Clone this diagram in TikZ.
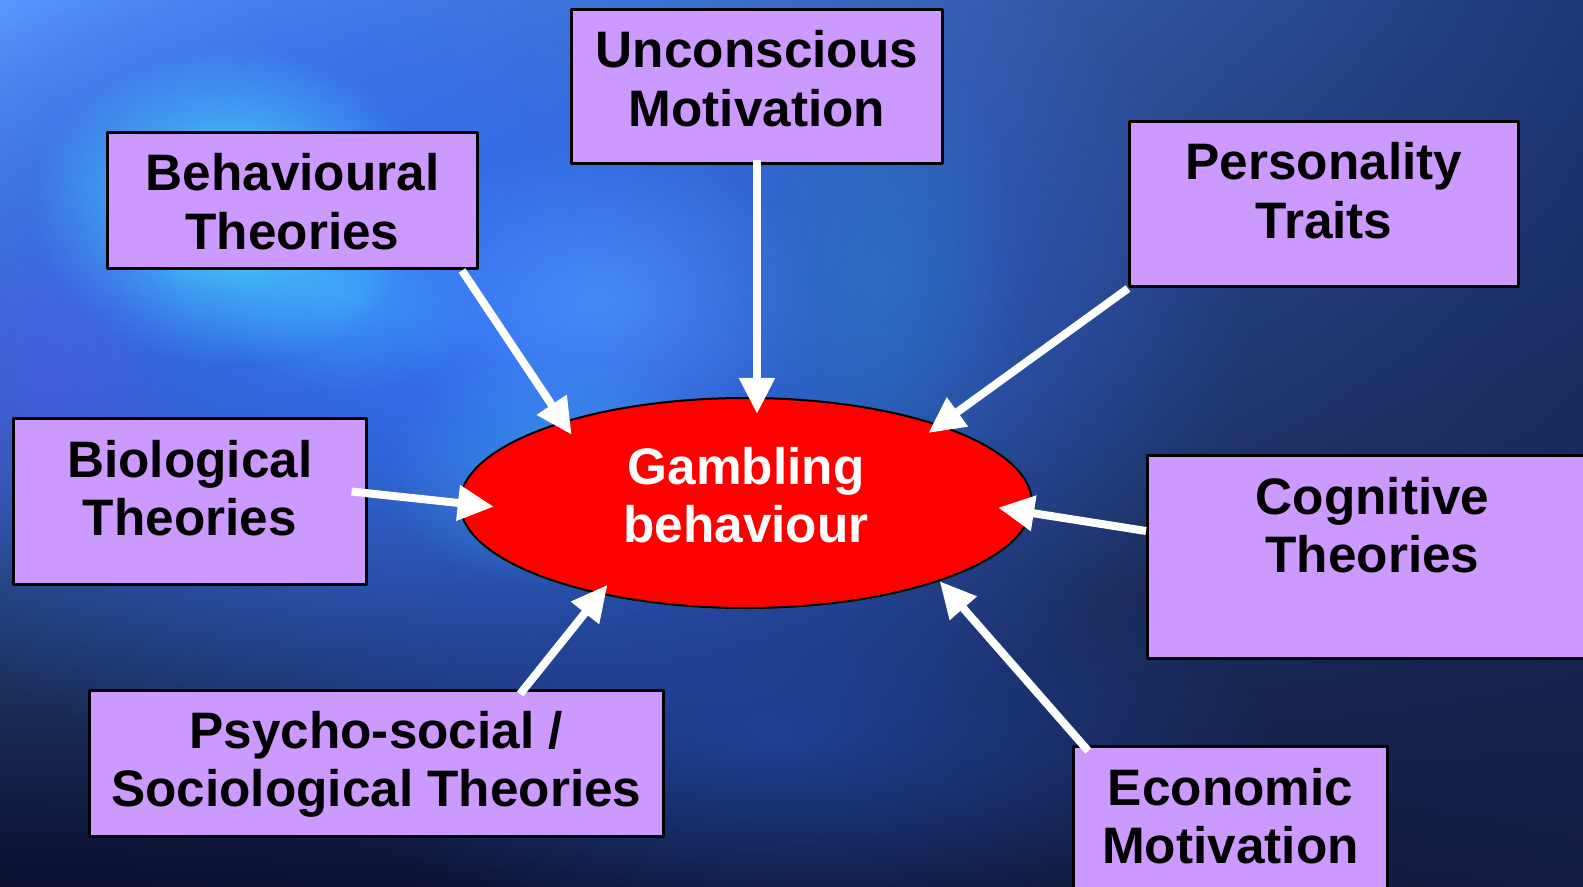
\documentclass[tikz,border=0pt]{standalone}
\usepackage{fontspec}
\setmainfont{Liberation Sans}
\usetikzlibrary{shapes.geometric, arrows.meta, fadings, shadings}

\definecolor{boxlila}{RGB}{204,153,255}
\definecolor{bgul}{RGB}{90,155,255}
\definecolor{bgur}{RGB}{30,55,120}
\definecolor{bgll}{RGB}{10,15,45}
\definecolor{bglr}{RGB}{20,28,65}
\definecolor{bgblue}{RGB}{50,110,245}
\definecolor{bgcyan}{RGB}{75,215,255}
\definecolor{bglight}{RGB}{90,170,255}
\definecolor{bgsky}{RGB}{60,170,245}
\definecolor{bgteal}{RGB}{40,125,195}
\definecolor{bgviolet}{RGB}{80,90,240}
\definecolor{bgdeep}{RGB}{35,75,175}

\tikzfading[name=softblob, inner color=transparent!0, outer color=transparent!100]

% box text: height, width, lines
\newcommand{\twolines}[3]{\parbox[b][#1][t]{#2}{\centering\rule{0pt}{0.585cm}#3}}

\tikzset{
  theory/.style={draw=black, line width=0.03cm, fill=boxlila, inner sep=0pt, anchor=north west},
  gamble/.style={ellipse, draw=black, line width=0.02cm, fill=red, text=white, inner sep=0pt,
    minimum width=5.72cm, minimum height=2.10cm, align=center},
  feed/.style={draw=white, line width=0.08cm, -{Triangle[length=0.36cm, width=0.34cm]}},
  blob/.style={path fading=softblob}
}

\begin{document}
\begin{tikzpicture}[line join=round, font=\bfseries\fontsize{14.6}{16.6}\selectfont]
  \useasboundingbox (0,0) rectangle (15.83,8.86);
  \clip (0,0) rectangle (15.83,8.86);
  % background
  \shade[upper left=bgul, upper right=bgur, lower left=bgll, lower right=bglr] (0,0) rectangle (15.83,8.86);
  \fill[bgblue, blob] (5.0,5.6) ellipse (7.5 and 4.8);
  \fill[bgblue, blob, opacity=0.7] (3.0,6.5) ellipse (4.0 and 3.0);
  \fill[bgcyan, blob] (2.3,6.8) ellipse (2.0 and 1.6);
  \fill[bgcyan, blob, opacity=0.6] (2.3,6.8) ellipse (1.2 and 0.9);
  \fill[bgcyan, blob, opacity=0.4] (3.5,5.9) ellipse (1.4 and 1.0);
  \fill[bglight, blob, opacity=0.5] (6.0,5.86) ellipse (2.2 and 1.6);
  \fill[bgsky, blob, opacity=0.6] (5.6,4.16) ellipse (1.8 and 1.2);
  \fill[bgteal, blob, opacity=0.5] (8.8,6.06) ellipse (1.5 and 2.5);
  \fill[bgviolet, blob, opacity=0.5] (0.5,5.0) ellipse (1.5 and 2.0);
  \fill[bgdeep, blob, opacity=0.7] (7.8,1.5) ellipse (5.0 and 2.0);
  % the theories
  \node[theory] (unc) at (5.70,8.78) {\twolines{1.545cm}{3.71cm}{Unconscious\\Motivation}};
  \node[theory] (beh) at (1.06,7.55) {\twolines{1.365cm}{3.70cm}{Behavioural\\Theories}};
  \node[theory] (per) at (11.28,7.66) {\twolines{1.655cm}{3.89cm}{Personality\\Traits}};
  \node[theory] (bio) at (0.12,4.69) {\twolines{1.655cm}{3.525cm}{Biological\\Theories}};
  \node[theory] (cog) at (11.46,4.32) {\twolines{2.03cm}{4.50cm}{Cognitive\\Theories}};
  \node[theory] (psy) at (0.88,1.975) {\twolines{1.465cm}{5.735cm}{Psycho-social /\\Sociological Theories}};
  \node[theory] (eco) at (10.72,1.41) {\twolines{1.60cm}{3.14cm}{Economic\\Motivation}};
  % the behaviour
  \node[gamble] (gam) at (7.46,3.83) {Gambling\\behaviour\rule[-0.16cm]{0pt}{0.16cm}};
  % arrows
  \draw[feed, shorten <=-0.05cm, shorten >=-0.17cm] (unc.south) -- (unc.south |- gam.north);
  \draw[feed, shorten >=-0.16cm] ([xshift=-0.17cm]beh.south east) -- (gam.156);
  \draw[feed, shorten >=-0.14cm] (per.south west) -- (gam.22);
  \draw[feed, shorten <=-0.16cm, shorten >=-0.35cm] ([yshift=0.08cm]bio.east) -- (gam.west);
  \draw[feed, shorten <=-0.07cm, shorten >=-0.12cm] ([xshift=-1.40cm]psy.north east) -- (gam.212);
  \draw[feed, shorten >=-0.34cm] ([yshift=0.26cm]cog.west) -- (gam.358);
  \draw[feed, shorten <=-0.08cm] ([xshift=0.11cm]eco.north west) -- (gam.338);
\end{tikzpicture}
\end{document}
